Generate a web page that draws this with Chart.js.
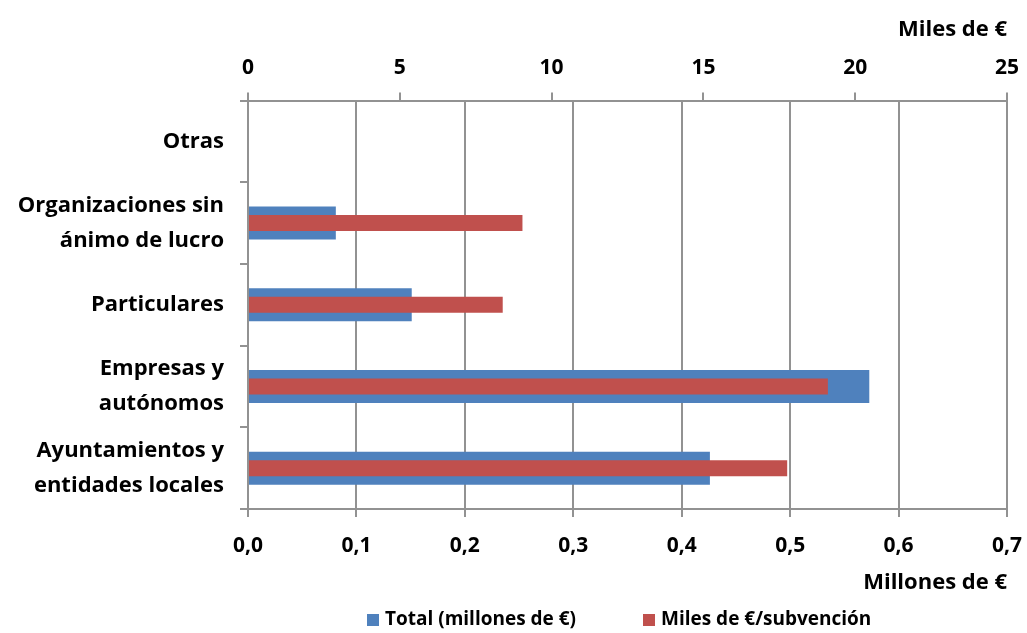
<!DOCTYPE html>
<html>
<head>
<meta charset="utf-8">
<script src="https://cdn.jsdelivr.net/npm/chart.js@4.4.1/dist/chart.umd.min.js"></script>
<style>
html,body{margin:0;padding:0;background:#fff}
#wrap{width:1027px;height:633px;position:relative}
</style>
</head>
<body>
<div id="wrap"><canvas id="chart"></canvas></div>
<script>
// ------------------------------
// Subvenciones por tipo de beneficiario
// ------------------------------

const categories = [
  "Otras",
  ["Organizaciones sin", "ánimo de lucro"],
  "Particulares",
  ["Empresas y", "autónomos"],
  ["Ayuntamientos y", "entidades locales"]
]

// Total (millones de €) -> eje inferior
const totalMillones = [0, 0.081, 0.151, 0.573, 0.426]

// Miles de € por subvención -> eje superior
const milesSubvencion = [0, 9.04, 8.39, 19.1, 17.76]

const seriesNames = ["Total (millones de €)", "Miles de €/subvención"]
const seriesColors = ["#4F81BD", "#C0504D"]

const gridColor = "#929292"
const fontFamily = "'Open Sans', Lato, sans-serif"


// Legend drawn under the chart

const bottomLegend = {
  id: "bottomLegend",
  afterDraw(chart){
    const ctx = chart.ctx
    const startX = [367, 643]
    const y = 620
    ctx.save()
    ctx.font = "bold 19px " + fontFamily
    ctx.textBaseline = "middle"
    ctx.textAlign = "left"
    chart.data.datasets.forEach((ds) => {
      const idx = seriesNames.indexOf(ds.label)
      ctx.fillStyle = ds.backgroundColor
      ctx.fillRect(startX[idx], y - 6, 12, 12)
      ctx.fillStyle = "#000"
      ctx.fillText(ds.label, startX[idx] + 18, y)
    })
    ctx.restore()
  }
}

// no extra room for the last tick label, the chart area ends at 0,7 / 25
function noSidePadding(scale){
  scale.paddingLeft = 0
  scale.paddingRight = 0
}


const ctx = document.getElementById("chart")

new Chart(ctx, {

  type: "bar",

  data: {
    labels: categories,
    datasets: [
      {
        label: seriesNames[0],
        data: totalMillones,
        backgroundColor: seriesColors[0],
        xAxisID: "x",
        barThickness: 33,
        inflateAmount: 0,
        order: 2
      },
      {
        label: seriesNames[1],
        data: milesSubvencion,
        backgroundColor: seriesColors[1],
        xAxisID: "x2",
        barThickness: 16,
        inflateAmount: 0,
        order: 1
      }
    ]
  },

  options: {
    indexAxis: "y",
    responsive: true,
    maintainAspectRatio: false,
    animation: false,
    grouped: false,
    layout: {
      padding: { top: 17, right: 20, bottom: 37, left: 0 }
    },
    plugins: {
      legend: { display: false },
      tooltip: { enabled: false }
    },
    scales: {
      x: {
        position: "bottom",
        min: 0,
        max: 0.7,
        ticks: {
          stepSize: 0.1,
          color: "#000",
          padding: 16,
          font: { family: fontFamily, size: 21, weight: "bold" },
          callback: v => v.toFixed(1).replace(".", ",")
        },
        grid: {
          color: gridColor,
          lineWidth: 2,
          tickLength: 8
        },
        border: { color: gridColor, width: 2 },
        title: {
          display: true,
          text: "Millones de €",
          align: "end",
          color: "#000",
          padding: { top: 10, bottom: 0 },
          font: { family: fontFamily, size: 22, weight: "bold" }
        },
        afterFit(scale){
          scale.height = 87
          noSidePadding(scale)
        }
      },
      x2: {
        position: "top",
        min: 0,
        max: 25,
        ticks: {
          stepSize: 5,
          color: "#000",
          padding: 12,
          font: { family: fontFamily, size: 21, weight: "bold" }
        },
        grid: {
          drawOnChartArea: false,
          color: gridColor,
          lineWidth: 2,
          tickLength: 8
        },
        border: { color: gridColor, width: 2 },
        title: {
          display: true,
          text: "Miles de €",
          align: "end",
          color: "#000",
          padding: { top: 0, bottom: 0 },
          font: { family: fontFamily, size: 22, weight: "bold" }
        },
        afterFit: noSidePadding
      },
      y: {
        z: 1,
        ticks: {
          color: "#000",
          padding: 16,
          font: { family: fontFamily, size: 22, weight: "bold", lineHeight: 1.6 }
        },
        grid: {
          drawOnChartArea: false,
          color: gridColor,
          lineWidth: 2,
          tickLength: 8
        },
        border: { color: gridColor, width: 2 },
        afterFit(scale){ scale.width = 248 }
      }
    }
  },

  plugins: [bottomLegend]

})
</script>
</body>
</html>
